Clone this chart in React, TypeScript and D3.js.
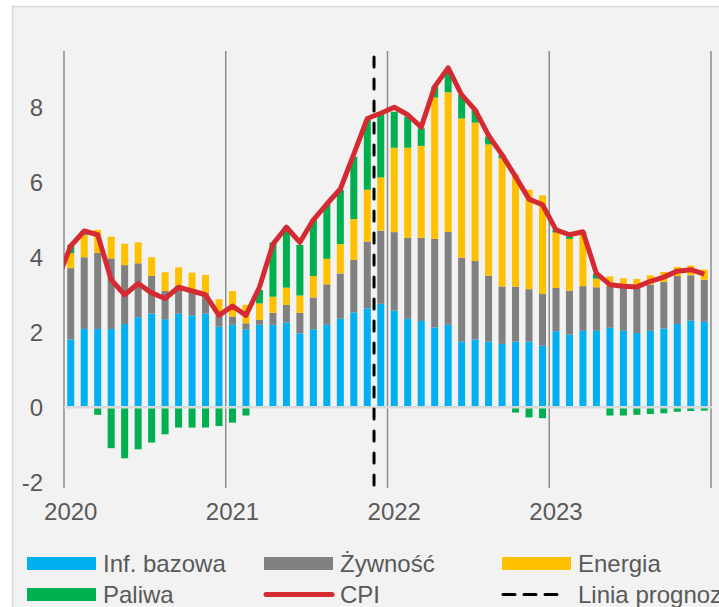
import React from 'react';
import * as d3 from 'd3';

// miesiące 2020-01 .. 2023-12
const years = ['2020', '2021', '2022', '2023'];
const months = years.flatMap(y => d3.range(1, 13).map(m => `${y}-${String(m).padStart(2, '0')}`));

const infBazowa = [
  1.81, 2.09, 2.09, 2.09, 2.22, 2.40, 2.50, 2.35, 2.50, 2.45, 2.50, 2.15,
  2.20, 2.08, 2.20, 2.20, 2.26, 1.97, 2.08, 2.20, 2.36, 2.53, 2.64, 2.76,
  2.58, 2.36, 2.30, 2.13, 2.20, 1.75, 1.81, 1.75, 1.69, 1.75, 1.75, 1.64,
  2.03, 1.94, 2.04, 2.04, 2.12, 2.04, 1.98, 2.04, 2.10, 2.22, 2.31, 2.28,
];
const zywnosc = [
  1.90, 1.91, 2.03, 1.88, 1.57, 1.44, 1.00, 0.75, 0.74, 0.63, 0.54, 0.29,
  0.22, 0.16, 0.13, 0.32, 0.47, 0.55, 0.85, 1.08, 1.21, 1.40, 1.78, 1.95,
  2.09, 2.16, 2.22, 2.36, 2.48, 2.24, 2.09, 1.76, 1.53, 1.47, 1.40, 1.38,
  1.15, 1.17, 1.19, 1.16, 1.12, 1.16, 1.20, 1.23, 1.24, 1.28, 1.21, 1.12,
];
const energia = [
  0.40, 0.60, 0.61, 0.58, 0.57, 0.56, 0.50, 0.50, 0.49, 0.51, 0.49, 0.44,
  0.68, 0.49, 0.44, 0.43, 0.46, 0.46, 0.57, 0.68, 0.78, 1.09, 1.38, 1.42,
  2.25, 2.40, 2.45, 3.77, 3.72, 3.71, 3.69, 3.50, 3.42, 2.99, 2.65, 2.63,
  1.48, 1.38, 1.42, 0.23, 0.25, 0.24, 0.24, 0.25, 0.27, 0.24, 0.26, 0.27,
];
const paliwa = [
  0.22, 0.10, -0.20, -1.09, -1.36, -1.12, -0.94, -0.72, -0.54, -0.54, -0.54, -0.50,
  -0.41, -0.22, 0.36, 1.44, 1.63, 1.35, 1.50, 1.46, 1.45, 1.66, 1.86, 1.67,
  0.96, 0.83, 0.47, 0.29, 0.55, 0.63, 0.34, 0.21, 0.09, -0.14, -0.27, -0.29,
  0.07, 0.07, 0.03, 0.13, -0.22, -0.22, -0.20, -0.18, -0.16, -0.12, -0.10, -0.09,
];
const cpiPrev = 3.4; // grudzień 2019
const cpi = [
  4.3, 4.7, 4.6, 3.4, 3.0, 3.3, 3.05, 2.9, 3.2, 3.1, 3.0, 2.45,
  2.7, 2.45, 3.2, 4.35, 4.8, 4.4, 5.0, 5.42, 5.82, 6.75, 7.7, 7.84,
  8.0, 7.8, 7.47, 8.55, 9.05, 8.33, 7.93, 7.25, 6.73, 6.15, 5.55, 5.4,
  4.73, 4.6, 4.68, 3.57, 3.27, 3.23, 3.21, 3.36, 3.47, 3.63, 3.67, 3.55,
];
const forecastStart = '2021-12';
const yTicks = [-2, 0, 2, 4, 6, 8];

const keys = ['infBazowa', 'zywnosc', 'energia', 'paliwa'];
const colors: Record<string, string> = {
  infBazowa: '#00B0F0',
  zywnosc: '#808080',
  energia: '#FFC000',
  paliwa: '#00B050',
};
const cpiColor = '#D52A31';
const textColor = '#595959';
const font = '"Liberation Sans", Arial, sans-serif';

const rows = months.map((m, i) => ({
  month: m,
  infBazowa: infBazowa[i],
  zywnosc: zywnosc[i],
  energia: energia[i],
  paliwa: paliwa[i],
}));

const App = () => {
  const width = 719;
  const height = 607;
  const left = 64, right = 711, top = 51, bottom = 482.3;

  const x = d3.scaleBand<string>()
    .domain(months)
    .range([left, right])
    .paddingInner(0.48)
    .paddingOuter(0.24);
  const y = d3.scaleLinear().domain([-2, 9.5]).range([bottom, top]);

  const series = d3.stack<any>()
    .keys(keys)
    .offset(d3.stackOffsetDiverging)(rows);

  const cx = (m: string) => (x(m) as number) + x.bandwidth() / 2;
  const linePts: [number, number][] = [
    [cx(months[0]) - x.step(), y(cpiPrev)],
    ...months.map((m, i) => [cx(m), y(cpi[i])] as [number, number]),
  ];
  const line = d3.line();

  const forecastX = x(forecastStart)! - (x.step() - x.bandwidth()) / 2;
  const yearLines = [...years.map(yr => `${yr}-01`)].map(m => x(m)! - (x.step() - x.bandwidth()) / 2);
  yearLines.push(right);

  const legend = [
    { label: 'Inf. bazowa', type: 'rect', color: colors.infBazowa, lx: 27, row: 0 },
    { label: 'Żywność', type: 'rect', color: colors.zywnosc, lx: 264, row: 0 },
    { label: 'Energia', type: 'rect', color: colors.energia, lx: 502, row: 0 },
    { label: 'Paliwa', type: 'rect', color: colors.paliwa, lx: 27, row: 1 },
    { label: 'CPI', type: 'line', color: cpiColor, lx: 264, row: 1 },
    { label: 'Linia prognozy', type: 'dash', color: '#000', lx: 502, row: 1 },
  ];

  return (
    <svg width={width} height={height} style={{ position: 'absolute', left: 0, top: 0 }} fontFamily={font}>
      <defs>
        <clipPath id="plotClip">
          <rect x={left} y={0} width={right - left + 10} height={height} />
        </clipPath>
      </defs>
      <rect x={0} y={0} width={width} height={height} fill="#fff" />
      <rect x={12.5} y={6.5} width={740} height={640} fill="#F2F2F2" stroke="#D9D9D9" strokeWidth={1.5} />

      {yearLines.map((gx, i) => (
        <line key={i} x1={gx} x2={gx} y1={top} y2={488} stroke="#8C8C8C" strokeWidth={1.5} />
      ))}

      {series.map(s => (
        <g key={s.key} fill={colors[s.key]}>
          {s.map((d, i) => (
            <rect
              key={i}
              x={x(months[i])}
              width={x.bandwidth()}
              y={y(Math.max(d[0], d[1]))}
              height={Math.abs(y(d[0]) - y(d[1]))}
            />
          ))}
        </g>
      ))}

      <line x1={left} x2={right + 1} y1={y(0)} y2={y(0)} stroke="#D9D9D9" strokeWidth={2.5} />

      <line x1={forecastX} x2={forecastX} y1={57} y2={489} stroke="#000" strokeWidth={3}
        strokeDasharray="10,12" strokeLinecap="round" />

      <path d={line(linePts) || ''} fill="none" stroke={cpiColor} strokeWidth={5}
        strokeLinejoin="round" clipPath="url(#plotClip)" />

      {yTicks.map(t => (
        <text key={t} x={43} y={y(t)} dy="0.35em" textAnchor="end" fontSize={24} fill={textColor}>{t}</text>
      ))}
      {years.map(yr => (
        <text key={yr} x={cx(`${yr}-01`)} y={520} textAnchor="middle" fontSize={24} fill={textColor}>{yr}</text>
      ))}

      {legend.map(item => {
        const ry = item.row === 0 ? 563.5 : 594.5;
        return (
          <g key={item.label}>
            {item.type === 'rect' && (
              <rect x={item.lx} y={ry - 6.5} width={69} height={13} fill={item.color} />
            )}
            {item.type === 'line' && (
              <line x1={item.lx + 2} x2={item.lx + 68} y1={ry} y2={ry} stroke={item.color}
                strokeWidth={5} strokeLinecap="round" />
            )}
            {item.type === 'dash' && (
              <line x1={item.lx + 1} x2={item.lx + 60} y1={ry} y2={ry} stroke={item.color}
                strokeWidth={3} strokeDasharray="12,9" strokeLinecap="round" />
            )}
            <text x={item.lx + 76} y={ry + 8} fontSize={24} fill={textColor}>{item.label}</text>
          </g>
        );
      })}
    </svg>
  );
};

export default App;
